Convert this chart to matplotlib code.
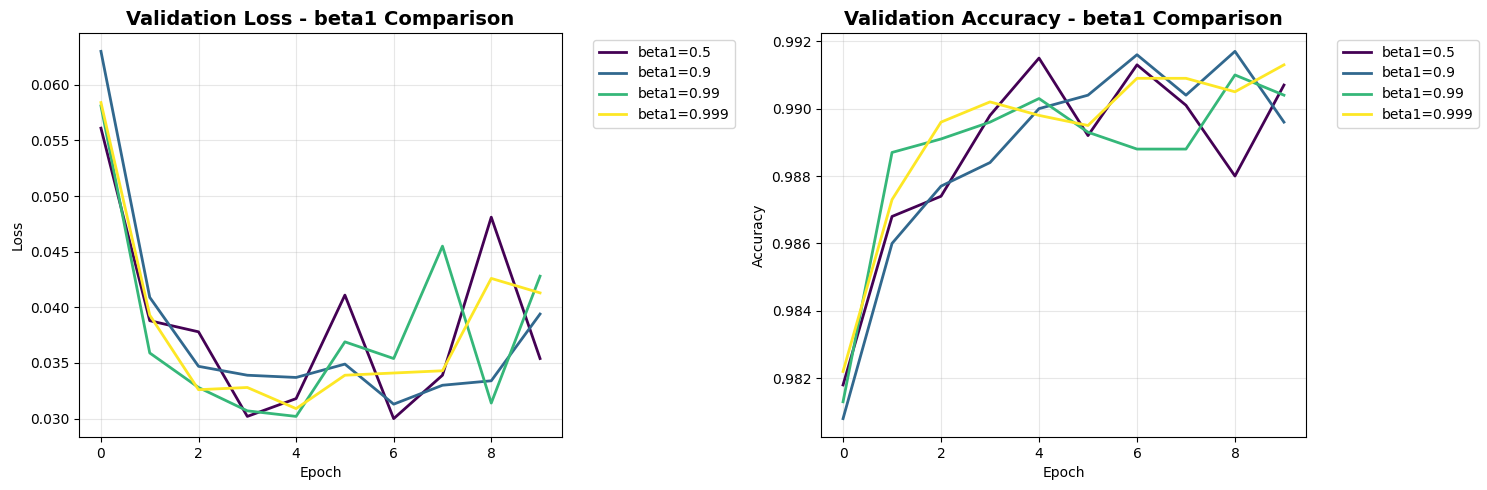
import matplotlib
matplotlib.use("Agg")
import matplotlib.pyplot as plt
import numpy as np

epochs = list(range(10))
betas = ["0.5", "0.9", "0.99", "0.999"]

loss_05 = [0.0561, 0.0388, 0.0378, 0.0302, 0.0318, 0.0411, 0.0300, 0.0339, 0.0481, 0.0354]
loss_09 = [0.0630, 0.0409, 0.0347, 0.0339, 0.0337, 0.0349, 0.0313, 0.0330, 0.0334, 0.0394]
loss_099 = [0.0581, 0.0359, 0.0328, 0.0307, 0.0302, 0.0369, 0.0354, 0.0455, 0.0314, 0.0428]
loss_0999 = [0.0584, 0.0393, 0.0326, 0.0328, 0.0309, 0.0339, 0.0341, 0.0343, 0.0426, 0.0413]

acc_05 = [0.9818, 0.9868, 0.9874, 0.9898, 0.9915, 0.9892, 0.9913, 0.9901, 0.9880, 0.9907]
acc_09 = [0.9808, 0.9860, 0.9877, 0.9884, 0.9900, 0.9904, 0.9916, 0.9904, 0.9917, 0.9896]
acc_099 = [0.9813, 0.9887, 0.9891, 0.9896, 0.9903, 0.9893, 0.9888, 0.9888, 0.9910, 0.9904]
acc_0999 = [0.9822, 0.9873, 0.9896, 0.9902, 0.9898, 0.9895, 0.9909, 0.9909, 0.9905, 0.9913]

losses = [loss_05, loss_09, loss_099, loss_0999]
accs = [acc_05, acc_09, acc_099, acc_0999]

fig = plt.figure(figsize=(14.87, 4.9), dpi=100)
ax1 = fig.add_axes([79/1487, 53/490, (562-79)/1487, (437-33)/490])
ax2 = fig.add_axes([821/1487, 53/490, (1306-821)/1487, (437-33)/490])

colors = plt.cm.viridis(np.linspace(0, 1, len(betas)))

for b, l, a, c in zip(betas, losses, accs, colors):
    ax1.plot(epochs, l, color=c, linewidth=2, label=f"beta1={b}")
    ax2.plot(epochs, a, color=c, linewidth=2, label=f"beta1={b}")

ax1.set_title("Validation Loss - beta1 Comparison", fontsize=14, fontweight="bold")
ax1.set_xlabel("Epoch")
ax1.set_ylabel("Loss")
ax1.grid(True, alpha=0.3)
ax1.legend(bbox_to_anchor=(1.05, 1), loc="upper left")

ax2.set_title("Validation Accuracy - beta1 Comparison", fontsize=14, fontweight="bold")
ax2.set_xlabel("Epoch")
ax2.set_ylabel("Accuracy")
ax2.grid(True, alpha=0.3)
ax2.legend(bbox_to_anchor=(1.05, 1), loc="upper left")

fig.savefig("out.png", dpi=100)
